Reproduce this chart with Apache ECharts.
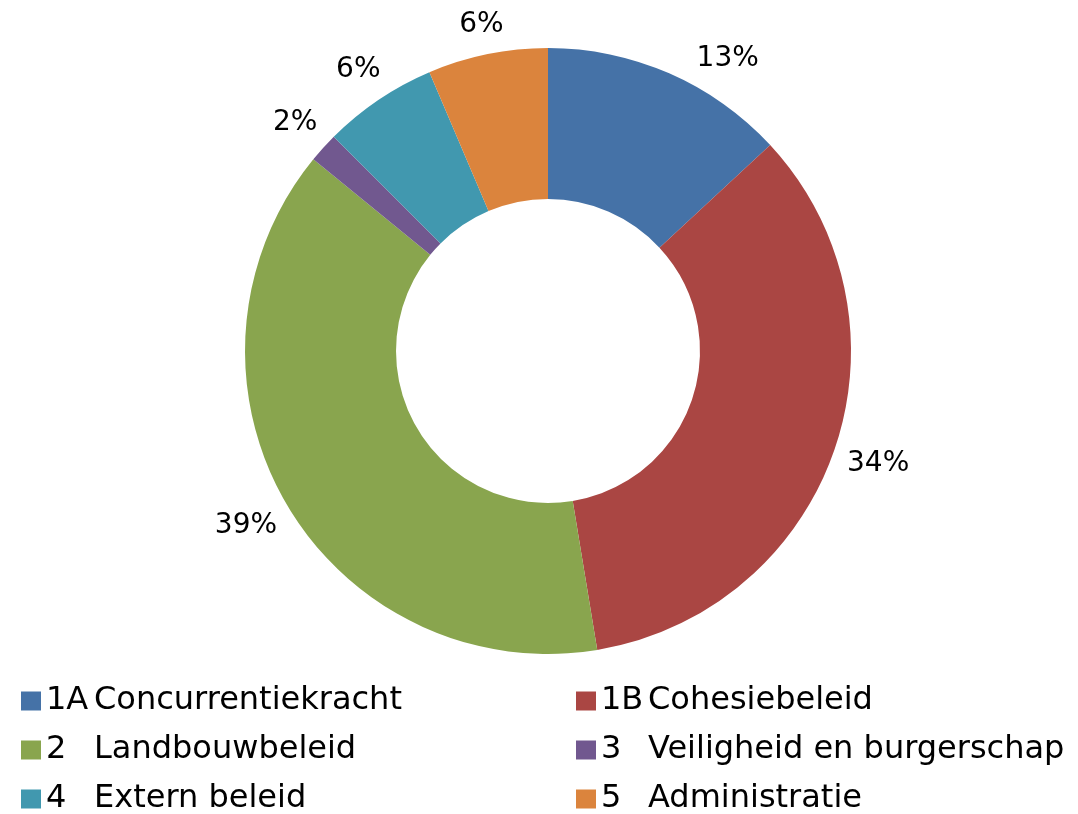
<!DOCTYPE html>
<html>
<head>
<meta charset="utf-8">
<script src="https://cdn.jsdelivr.net/npm/echarts@6/dist/echarts.min.js"></script>
<style>html,body{margin:0;padding:0;background:#fff}#c{width:1078px;height:814px}</style>
</head>
<body>
<div id="c"></div>
<script>
var categories = ['1A Concurrentiekracht','1B Cohesiebeleid','2 Landbouwbeleid','3 Veiligheid en burgerschap','4 Extern beleid','5 Administratie'];
var values = [13.1, 34.3, 38.5, 1.6, 6.1, 6.4];
var colors = ['#4572A7','#AA4643','#89A54E','#71588F','#4198AF','#DB843D'];
var legendLeft = ['1A Concurrentiekracht','2 Landbouwbeleid','4 Extern beleid'];
var legendRight = ['1B Cohesiebeleid','3 Veiligheid en burgerschap','5 Administratie'];

var FONT = 'DejaVu Sans';
var CX = 548, CY = 351, R_IN = 152, R_OUT = 303, GAP = 12;
var data = categories.map(function(n,i){ return {name:n, value:values[i]}; });

function mkLegend(names, left, codeW){
  return {
    data:names, orient:'vertical', left:left, top:685, height:300, padding:0,
    icon:'rect', itemWidth:20, itemHeight:19, itemGap:17,
    textStyle:{
      color:'#000', fontFamily:FONT, fontSize:32, lineHeight:30,
      rich:{ a:{width:codeW, fontSize:32, fontFamily:FONT, color:'#000', lineHeight:30},
             b:{fontSize:32, fontFamily:FONT, color:'#000', lineHeight:30} }
    },
    formatter:function(name){
      var k = name.indexOf(' ');
      return '{a|' + name.slice(0,k) + '}{b|' + name.slice(k+1) + '}';
    },
    selectedMode:false
  };
}

var chart = echarts.init(document.getElementById('c'), null, {renderer:'canvas'});
chart.setOption({
  animation:false,
  color:colors,
  legend:[mkLegend(legendLeft, 21, 48), mkLegend(legendRight, 576, 47)],
  series:[
    {
      type:'pie', center:[CX,CY], radius:[R_IN,R_OUT], startAngle:90, clockwise:true,
      data:data, silent:true, itemStyle:{borderWidth:0},
      labelLine:{show:false},
      label:{show:true, position:'inside', color:'#000', fontFamily:FONT, fontSize:28,
        formatter:function(p){ return Math.round(p.value) + '%'; } },
      labelLayout:function(p){
        var r = p.labelRect;
        var lx = r.x + r.width/2, ly = r.y + r.height/2;
        var ang = Math.atan2(lx - CX, CY - ly);
        if (p.dataIndex === 0) ang += 8 * Math.PI / 180; // Excel's best-fit shift
        var ux = Math.sin(ang), uy = -Math.cos(ang);
        var d = R_OUT + GAP + Math.abs(ux) * r.width/2 + Math.abs(uy) * r.height/2;
        return { dx: CX + ux*d - lx, dy: CY + uy*d - ly };
      }
    }
  ]
});
</script>
</body>
</html>
